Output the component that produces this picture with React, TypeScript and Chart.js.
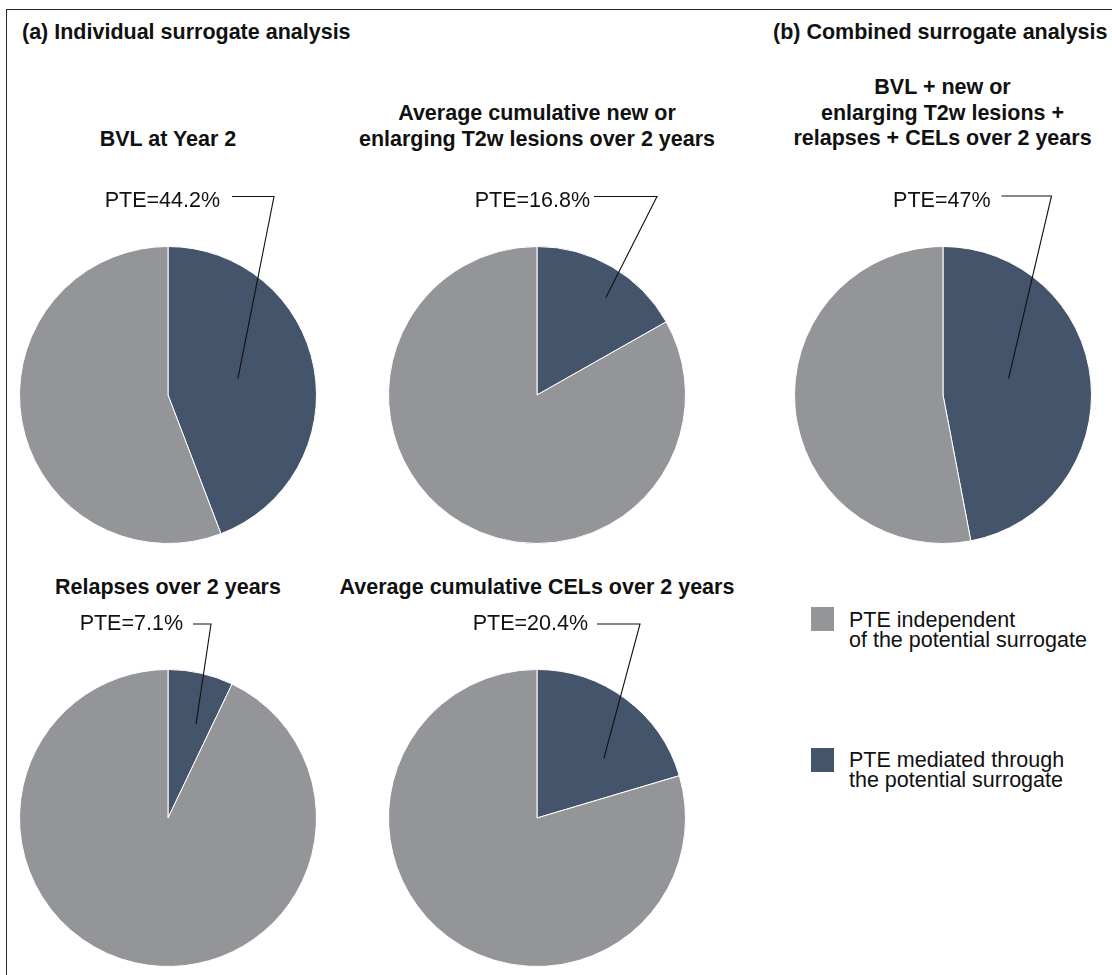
import React, { useEffect, useRef } from "react";
import { Chart, registerables } from "chart.js";

Chart.register(...registerables);

// ---- Data ----
const sectionHeadings = ["(a) Individual surrogate analysis", "(b) Combined surrogate analysis"];

const surrogateTitles: string[][] = [
  ["BVL at Year 2"],
  ["Average cumulative new or", "enlarging T2w lesions over 2 years"],
  ["BVL + new or", "enlarging T2w lesions +", "relapses + CELs over 2 years"],
  ["Relapses over 2 years"],
  ["Average cumulative CELs over 2 years"],
];

// Proportion of treatment effect (%) mediated through each surrogate
const mediatedPte = [44.2, 16.8, 47, 7.1, 20.4];

const shareLabels = [
  "PTE mediated through the potential surrogate",
  "PTE independent of the potential surrogate",
];

const legendLines: string[][] = [
  ["PTE independent", "of the potential surrogate"],
  ["PTE mediated through", "the potential surrogate"],
];

// ---- Styling & layout ----
const DARK = "#44546a";
const GRAY = "#939598";
const TEXT = "#111111";
const FONT = "'Liberation Sans', Arial, Helvetica, sans-serif";
const FONT_SIZE = 21.5;

const PIE_BOX = 298;
const PAD_TOP = 70;
const TITLE_LINE = 25.5;
const BASELINE_OFFSET = 20.2;

// Page-space placement for each panel and its leader annotation
const panels = [
  { cx: 168, cy: 394.5, titleBase: 147.5, lineY: 196, labelY: 206.5, textRight: 220, segStart: 232, elbowX: 274, rFrac: 0.484, aFrac: 0.482 },
  { cx: 537, cy: 394.5, titleBase: 147, lineY: 196, labelY: 206.5, textRight: 590, segStart: 594, elbowX: 657, rFrac: 0.804, aFrac: 0.583 },
  { cx: 942.5, cy: 394.5, titleBase: 146.5, lineY: 195.5, labelY: 206, textRight: 990, segStart: 1001, elbowX: 1051, rFrac: 0.455, aFrac: 0.449 },
  { cx: 168, cy: 818, titleBase: 595, lineY: 624, labelY: 630, textRight: 183, segStart: 193, elbowX: 211, rFrac: 0.66, aFrac: 0.65 },
  { cx: 537, cy: 818, titleBase: 595, lineY: 624, labelY: 630, textRight: 588, segStart: 597, elbowX: 640, rFrac: 0.605, aFrac: 0.656 },
];

const legendBoxes = [
  { color: GRAY, boxTop: 607, textTop: 609.5 },
  { color: DARK, boxTop: 748, textTop: 750 },
];

// Draws the "PTE=…" label with its elbow leader into the mediated slice
const leaderPlugin = {
  id: "pteLeader",
  afterDraw(chart: any, _args: any, opts: any) {
    const arc = chart.getDatasetMeta(0).data[0];
    if (!arc) return;
    const p = arc.getProps(["x", "y", "startAngle", "endAngle", "outerRadius"], true);
    const a = p.startAngle + (p.endAngle - p.startAngle) * opts.aFrac;
    const r = p.outerRadius * opts.rFrac;
    const ex = p.x + Math.cos(a) * r;
    const ey = p.y + Math.sin(a) * r;
    const ctx = chart.ctx as CanvasRenderingContext2D;
    ctx.save();
    ctx.strokeStyle = TEXT;
    ctx.lineWidth = 1.1;
    ctx.beginPath();
    ctx.moveTo(opts.segStart, opts.lineY);
    ctx.lineTo(opts.elbowX, opts.lineY);
    ctx.lineTo(ex, ey);
    ctx.stroke();
    ctx.font = `${FONT_SIZE}px ${FONT}`;
    ctx.fillStyle = TEXT;
    ctx.textAlign = "right";
    ctx.textBaseline = "alphabetic";
    ctx.fillText(opts.text, opts.textRight, opts.labelY);
    ctx.restore();
  },
};

function PiePanel({ index }: { index: number }) {
  const ref = useRef<HTMLCanvasElement | null>(null);
  const pl = panels[index];
  const left = pl.cx - PIE_BOX / 2;
  const top = pl.cy - PIE_BOX / 2 - PAD_TOP;

  useEffect(() => {
    if (!ref.current) return;
    const m = mediatedPte[index];
    const chart = new Chart(ref.current, {
      type: "pie",
      data: {
        labels: shareLabels,
        datasets: [
          {
            data: [m, +(100 - m).toFixed(1)],
            backgroundColor: [DARK, GRAY],
            borderColor: "#ffffff",
            borderWidth: 1,
          },
        ],
      },
      options: {
        responsive: false,
        animation: false,
        devicePixelRatio: 1,
        events: [],
        layout: { padding: { top: PAD_TOP, left: 0, right: 0, bottom: 0 } },
        plugins: {
          legend: { display: false },
          tooltip: { enabled: false },
          pteLeader: {
            text: `PTE=${m}%`,
            segStart: pl.segStart - left,
            elbowX: pl.elbowX - left,
            lineY: pl.lineY - top,
            labelY: pl.labelY - top,
            textRight: pl.textRight - left,
            rFrac: pl.rFrac,
            aFrac: pl.aFrac,
          },
        } as any,
      },
      plugins: [leaderPlugin as any],
    });
    return () => chart.destroy();
  }, [index]);

  return (
    <canvas
      ref={ref}
      width={PIE_BOX}
      height={PIE_BOX + PAD_TOP}
      style={{ position: "absolute", left, top, width: PIE_BOX, height: PIE_BOX + PAD_TOP }}
    />
  );
}

export default function App() {
  const textBase: React.CSSProperties = {
    position: "absolute",
    fontFamily: FONT,
    fontSize: FONT_SIZE,
    color: TEXT,
    whiteSpace: "nowrap",
  };
  return (
    <div
      style={{
        position: "absolute",
        left: 0,
        top: 0,
        width: 1112,
        height: 975,
        overflow: "hidden",
        background: "#ffffff",
      }}
    >
      <div
        style={{
          position: "absolute",
          left: 5.5,
          top: 8.5,
          width: 1200,
          height: 1100,
          borderLeft: "1px solid #2a2a2a",
          borderTop: "1px solid #2a2a2a",
        }}
      />
      <div style={{ ...textBase, fontWeight: "bold", left: 22, top: 40.6 - BASELINE_OFFSET, lineHeight: `${TITLE_LINE}px` }}>
        {sectionHeadings[0]}
      </div>
      <div style={{ ...textBase, fontWeight: "bold", left: 773, top: 40.6 - BASELINE_OFFSET, lineHeight: `${TITLE_LINE}px` }}>
        {sectionHeadings[1]}
      </div>

      {panels.map((pl, i) => {
        const lines = surrogateTitles[i];
        const top = pl.titleBase - BASELINE_OFFSET - (lines.length - 1) * TITLE_LINE;
        return (
          <div
            key={`t${i}`}
            style={{
              ...textBase,
              fontWeight: "bold",
              left: pl.cx - 250,
              width: 500,
              top,
              textAlign: "center",
              lineHeight: `${TITLE_LINE}px`,
            }}
          >
            {lines.map((ln, j) => (
              <div key={j}>{ln}</div>
            ))}
          </div>
        );
      })}

      {panels.map((_, i) => (
        <PiePanel key={`p${i}`} index={i} />
      ))}

      {legendBoxes.map((lb, i) => (
        <React.Fragment key={`l${i}`}>
          <div
            style={{
              position: "absolute",
              left: 811,
              top: lb.boxTop,
              width: 23,
              height: 24,
              background: lb.color,
            }}
          />
          <div style={{ ...textBase, left: 849, top: lb.textTop, lineHeight: "20px" }}>
            {legendLines[i].map((ln, j) => (
              <div key={j}>{ln}</div>
            ))}
          </div>
        </React.Fragment>
      ))}
    </div>
  );
}
